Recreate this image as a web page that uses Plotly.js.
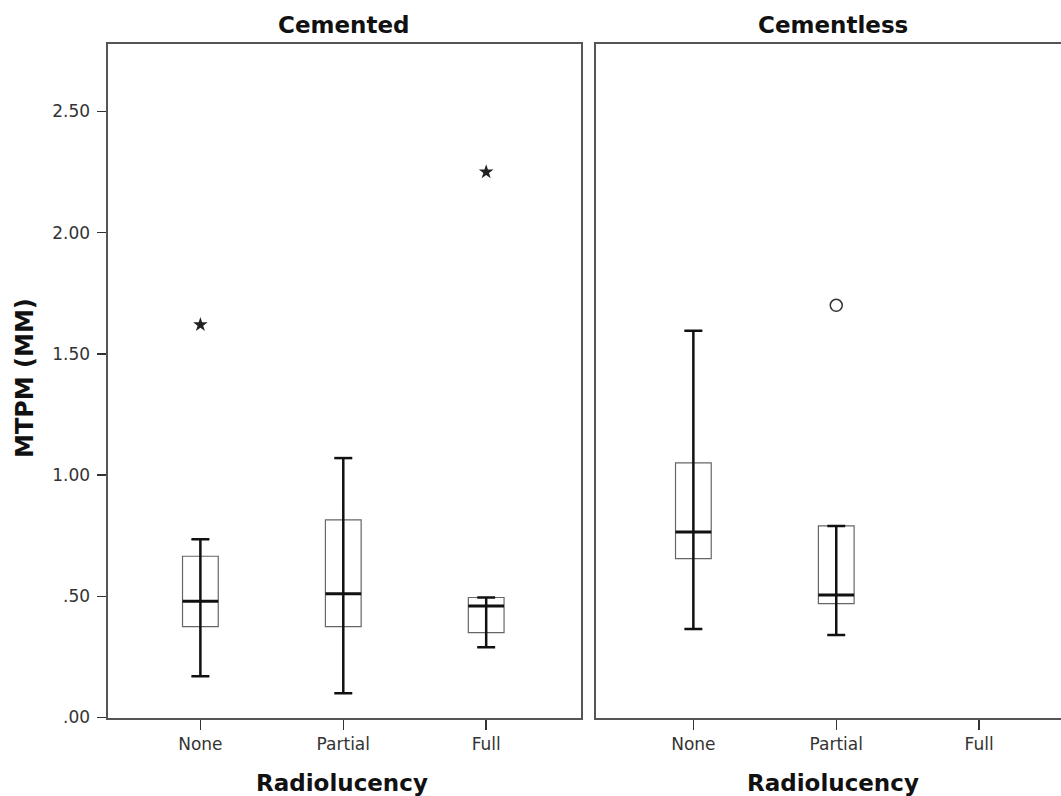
<!DOCTYPE html>
<html>
<head>
<meta charset="utf-8">
<script src="https://cdn.plot.ly/plotly-3.0.1.min.js"></script>
<style>html,body{margin:0;padding:0;background:#fff;}#chart{width:1061px;height:796px;}</style>
</head>
<body>
<div id="chart"></div>
<script>
// ---- data ----
const categories = ['None', 'Partial', 'Full'];
const panels = ['Cemented', 'Cementless'];

// Cemented
const cemLow    = [0.17, 0.10, 0.29];
const cemQ1     = [0.375, 0.375, 0.35];
const cemMedian = [0.48, 0.51, 0.46];
const cemQ3     = [0.665, 0.815, 0.495];
const cemHigh   = [0.735, 1.07, 0.495];
const cemOutlierCat = ['None', 'Full'];
const cemOutlierVal = [1.62, 2.25];

// Cementless (no "Full" group)
const clsLow    = [0.365, 0.34];
const clsQ1     = [0.655, 0.47];
const clsMedian = [0.765, 0.505];
const clsQ3     = [1.05, 0.79];
const clsHigh   = [1.595, 0.79];
const clsOutlierCat = ['Partial'];
const clsOutlierVal = [1.70];

const yTickVals = [0, 0.5, 1.0, 1.5, 2.0, 2.5];
const yTickText = ['.00', '.50', '1.00', '1.50', '2.00', '2.50'];

// ---- styling ----
const FONT = 'DejaVu Sans, Verdana, sans-serif';
const BOXW = 0.25, CAPW = 0.125;
const frame = '#555';

function idx(c) { return categories.indexOf(c); }

function boxTrace(n, q1, med, q3, lo, hi, xa, ya) {
  const xs = categories.slice(0, n).map((c, i) => i);
  return {
    type: 'box', x: xs, q1: q1, median: med, q3: q3,
    lowerfence: lo, upperfence: hi, width: BOXW, whiskerwidth: 0.5,
    boxpoints: false, fillcolor: 'rgba(255,255,255,0)',
    line: {color: '#666', width: 1.2}, xaxis: xa, yaxis: ya,
    hoverinfo: 'skip', showlegend: false
  };
}

function whiskerTrace(n, lo, hi, xa, ya) {
  const x = [], y = [];
  for (let i = 0; i < n; i++) {
    x.push(i, i, null, i - CAPW / 2, i + CAPW / 2, null, i - CAPW / 2, i + CAPW / 2, null);
    y.push(lo[i], hi[i], null, lo[i], lo[i], null, hi[i], hi[i], null);
  }
  return {type: 'scatter', mode: 'lines', x: x, y: y, xaxis: xa, yaxis: ya,
    line: {color: '#111', width: 2.5}, hoverinfo: 'skip', showlegend: false};
}

function medianTrace(n, med, xa, ya) {
  const x = [], y = [];
  for (let i = 0; i < n; i++) {
    x.push(i - BOXW / 2, i + BOXW / 2, null);
    y.push(med[i], med[i], null);
  }
  return {type: 'scatter', mode: 'lines', x: x, y: y, xaxis: xa, yaxis: ya,
    line: {color: '#111', width: 3}, hoverinfo: 'skip', showlegend: false};
}

const traces = [
  boxTrace(3, cemQ1, cemMedian, cemQ3, cemLow, cemHigh, 'x', 'y'),
  whiskerTrace(3, cemLow, cemHigh, 'x', 'y'),
  medianTrace(3, cemMedian, 'x', 'y'),
  {type: 'scatter', mode: 'markers', x: cemOutlierCat.map(idx), y: cemOutlierVal,
   xaxis: 'x', yaxis: 'y', marker: {symbol: 'star', size: 11, color: '#222'},
   hoverinfo: 'skip', showlegend: false},
  boxTrace(2, clsQ1, clsMedian, clsQ3, clsLow, clsHigh, 'x2', 'y2'),
  whiskerTrace(2, clsLow, clsHigh, 'x2', 'y2'),
  medianTrace(2, clsMedian, 'x2', 'y2'),
  {type: 'scatter', mode: 'markers', x: clsOutlierCat.map(idx), y: clsOutlierVal,
   xaxis: 'x2', yaxis: 'y2',
   marker: {symbol: 'circle-open', size: 12, color: '#333', line: {width: 1.5, color: '#333'}},
   hoverinfo: 'skip', showlegend: false}
];

const W = 1061, H = 796;
const yDom = [1 - 717.5 / H, 1 - 43.5 / H];
const tickFont = {family: FONT, size: 17, color: '#333'};

const xCommon = {
  tickvals: [0, 1, 2], ticktext: categories, tickfont: tickFont,
  showline: true, linecolor: frame, linewidth: 2, mirror: true,
  ticks: 'outside', ticklen: 10, tickwidth: 1.5, tickcolor: '#333',
  showgrid: false, zeroline: false, fixedrange: true
};

function ann(text, px, py, size, angle) {
  return {text: '<b>' + text + '</b>', xref: 'paper', yref: 'paper',
    x: px / W, y: 1 - py / H, xanchor: 'center', yanchor: 'middle',
    textangle: angle || 0, showarrow: false,
    font: {family: FONT, size: size, color: '#111'}};
}

const layout = {
  width: W, height: H,
  margin: {l: 0, r: 0, t: 0, b: 0},
  paper_bgcolor: '#fff', plot_bgcolor: '#fff',
  showlegend: false,
  font: {family: FONT, color: '#222'},
  xaxis: Object.assign({}, xCommon, {domain: [107.5 / W, 580.5 / W], range: [-0.65, 2.66], anchor: 'y'}),
  xaxis2: Object.assign({}, xCommon, {domain: [595.5 / W, 1], range: [-0.685, 2.573], anchor: 'y2'}),
  yaxis: {
    domain: yDom, range: [0, 2.78], tickvals: yTickVals, ticktext: yTickText,
    tickfont: tickFont, ticks: 'outside', ticklen: 9, tickwidth: 1.5, tickcolor: '#333',
    ticklabelstandoff: 3,
    showline: true, linecolor: frame, linewidth: 2, mirror: true,
    showgrid: false, zeroline: false, anchor: 'x', fixedrange: true
  },
  yaxis2: {
    domain: yDom, range: [0, 2.78], showticklabels: false, ticks: '',
    showline: true, linecolor: frame, linewidth: 2, mirror: false,
    showgrid: false, zeroline: false, anchor: 'x2', fixedrange: true
  },
  annotations: [
    ann(panels[0], 343, 25, 23),
    ann(panels[1], 833, 25, 23),
    ann('Radiolucency', 342, 783, 23),
    ann('Radiolucency', 833, 783, 23),
    ann('MTPM (MM)', 25, 378, 24, -90)
  ]
};

Plotly.newPlot('chart', traces, layout, {displayModeBar: false, staticPlot: true});
</script>
</body>
</html>
